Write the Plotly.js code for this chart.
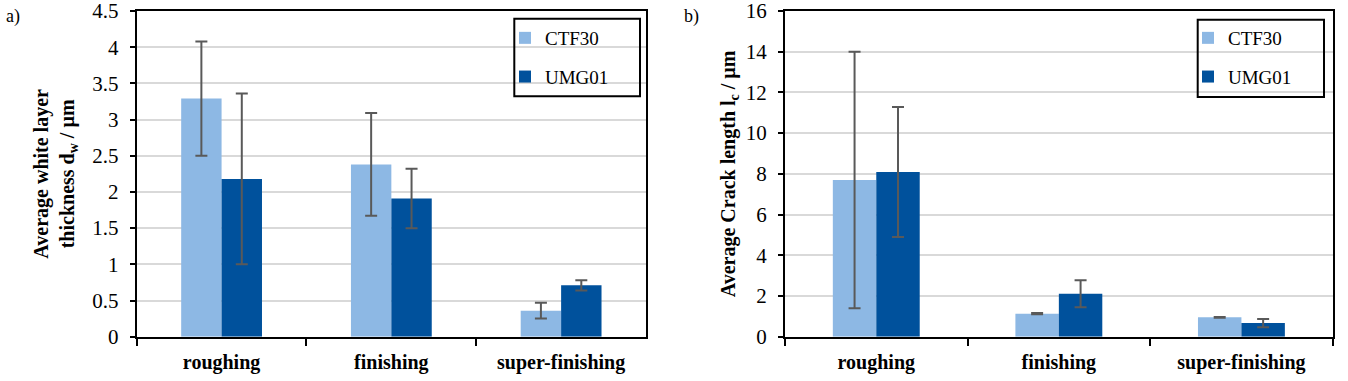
<!DOCTYPE html>
<html>
<head>
<meta charset="utf-8">
<script src="https://cdn.plot.ly/plotly-3.0.1.min.js"></script>
<style>html,body{margin:0;padding:0;background:#fff;}#chart{width:1348px;height:381px;}</style>
</head>
<body>
<div id="chart"></div>
<script>
// ---- data ----
const processes = ["roughing", "finishing", "super-finishing"];
const seriesNames = ["CTF30", "UMG01"];

// a) average white layer thickness d_w / µm
const whiteCTF30 = [3.29, 2.38, 0.36];
const whiteCTF30Err = [0.79, 0.71, 0.11];
const whiteUMG01 = [2.18, 1.91, 0.71];
const whiteUMG01Err = [1.18, 0.41, 0.07];

// b) average crack length l_c / µm
const crackCTF30 = [7.70, 1.13, 0.95];
const crackCTF30Err = [6.30, 0.03, 0.02];
const crackUMG01 = [8.09, 2.11, 0.67];
const crackUMG01Err = [3.19, 0.66, 0.20];

// ---- styles ----
const colCTF = "#8DB8E4";
const colUMG = "#00519C";
const errCol = "#595959";
const serif = "'Liberation Serif', 'Times New Roman', Times, serif";

function bar(name, x, y, err, color, xa, ya, legend) {
  return {
    type: "bar", name: name, x: x, y: y,
    xaxis: xa, yaxis: ya, legend: legend,
    legendgroup: name + legend,
    marker: {color: color, line: {width: 0}},
    error_y: {type: "data", array: err, visible: true, color: errCol, thickness: 2, width: 6},
    hoverinfo: "skip"
  };
}

const traces = [
  bar(seriesNames[0], processes, whiteCTF30, whiteCTF30Err, colCTF, "x", "y", "legend"),
  bar(seriesNames[1], processes, whiteUMG01, whiteUMG01Err, colUMG, "x", "y", "legend"),
  bar(seriesNames[0], processes, crackCTF30, crackCTF30Err, colCTF, "x2", "y2", "legend2"),
  bar(seriesNames[1], processes, crackUMG01, crackUMG01Err, colUMG, "x2", "y2", "legend2")
];

const W = 1348, H = 381;
const px = v => v / W;
const py = v => 1 - v / H;

const xBase = {
  type: "category", showline: true, linecolor: "#000", linewidth: 2, mirror: true,
  ticks: "outside", tickson: "boundaries", ticklen: 7, tickwidth: 2, tickcolor: "#000",
  showgrid: false, zeroline: false, fixedrange: true,
  tickfont: {family: serif, size: 20, color: "#000", weight: "bold"},
  ticklabelstandoff: 6
};
const yBase = {
  showline: true, linecolor: "#000", linewidth: 2, mirror: true,
  ticks: "outside", ticklen: 5, tickwidth: 2, tickcolor: "#000",
  showgrid: true, gridcolor: "#D9D9D9", gridwidth: 2, zeroline: false, fixedrange: true,
  tickfont: {family: serif, size: 21, color: "#000"},
  ticklabelstandoff: 7, ticklabeloverflow: "allow"
};

const legBase = {
  font: {family: serif, size: 19, color: "#000"},
  bgcolor: "rgba(0,0,0,0)", borderwidth: 0,
  traceorder: "grouped", tracegroupgap: 11,
  xanchor: "left", yanchor: "top"
};

const layout = {
  width: W, height: H,
  margin: {l: 0, r: 0, t: 0, b: 0},
  paper_bgcolor: "#fff", plot_bgcolor: "#fff",
  font: {family: serif},
  barmode: "group", bargap: 0.524, bargroupgap: 0,
  showlegend: true,
  xaxis: Object.assign({}, xBase, {domain: [px(136.7), px(646)], anchor: "y"}),
  yaxis: Object.assign({}, yBase, {domain: [py(336.7), py(11)], anchor: "x",
    range: [0, 4.5], dtick: 0.5,
    title: {text: "Average white layer<br>thickness d<sub>w</sub> / µm", standoff: 12,
      font: {family: serif, size: 20, color: "#000", weight: "bold"}}}),
  xaxis2: Object.assign({}, xBase, {domain: [px(785), px(1332.7)], anchor: "y2"}),
  yaxis2: Object.assign({}, yBase, {domain: [py(336.7), py(11)], anchor: "x2",
    range: [0, 16], dtick: 2,
    title: {text: "Average Crack length l<sub>c</sub> / µm", standoff: 5,
      font: {family: serif, size: 20, color: "#000", weight: "bold"}}}),
  legend: Object.assign({}, legBase, {x: px(505), y: py(19)}),
  legend2: Object.assign({}, legBase, {x: px(1188), y: py(19)}),
  shapes: [
    {type: "rect", xref: "paper", yref: "paper", x0: px(514.3), x1: px(640), y0: py(96.3), y1: py(18.7),
      line: {color: "#000", width: 2}, fillcolor: "rgba(0,0,0,0)"},
    {type: "rect", xref: "paper", yref: "paper", x0: px(1197.7), x1: px(1324), y0: py(97), y1: py(19.7),
      line: {color: "#000", width: 2}, fillcolor: "rgba(0,0,0,0)"}
  ],
  annotations: [
    {text: "a)", xref: "paper", yref: "paper", x: px(4), y: py(4), xanchor: "left", yanchor: "top",
      showarrow: false, font: {family: serif, size: 18, color: "#000"}},
    {text: "b)", xref: "paper", yref: "paper", x: px(682), y: py(4), xanchor: "left", yanchor: "top",
      showarrow: false, font: {family: serif, size: 18, color: "#000"}}
  ]
};

Plotly.newPlot("chart", traces, layout, {displayModeBar: false, staticPlot: true});
</script>
</body>
</html>
